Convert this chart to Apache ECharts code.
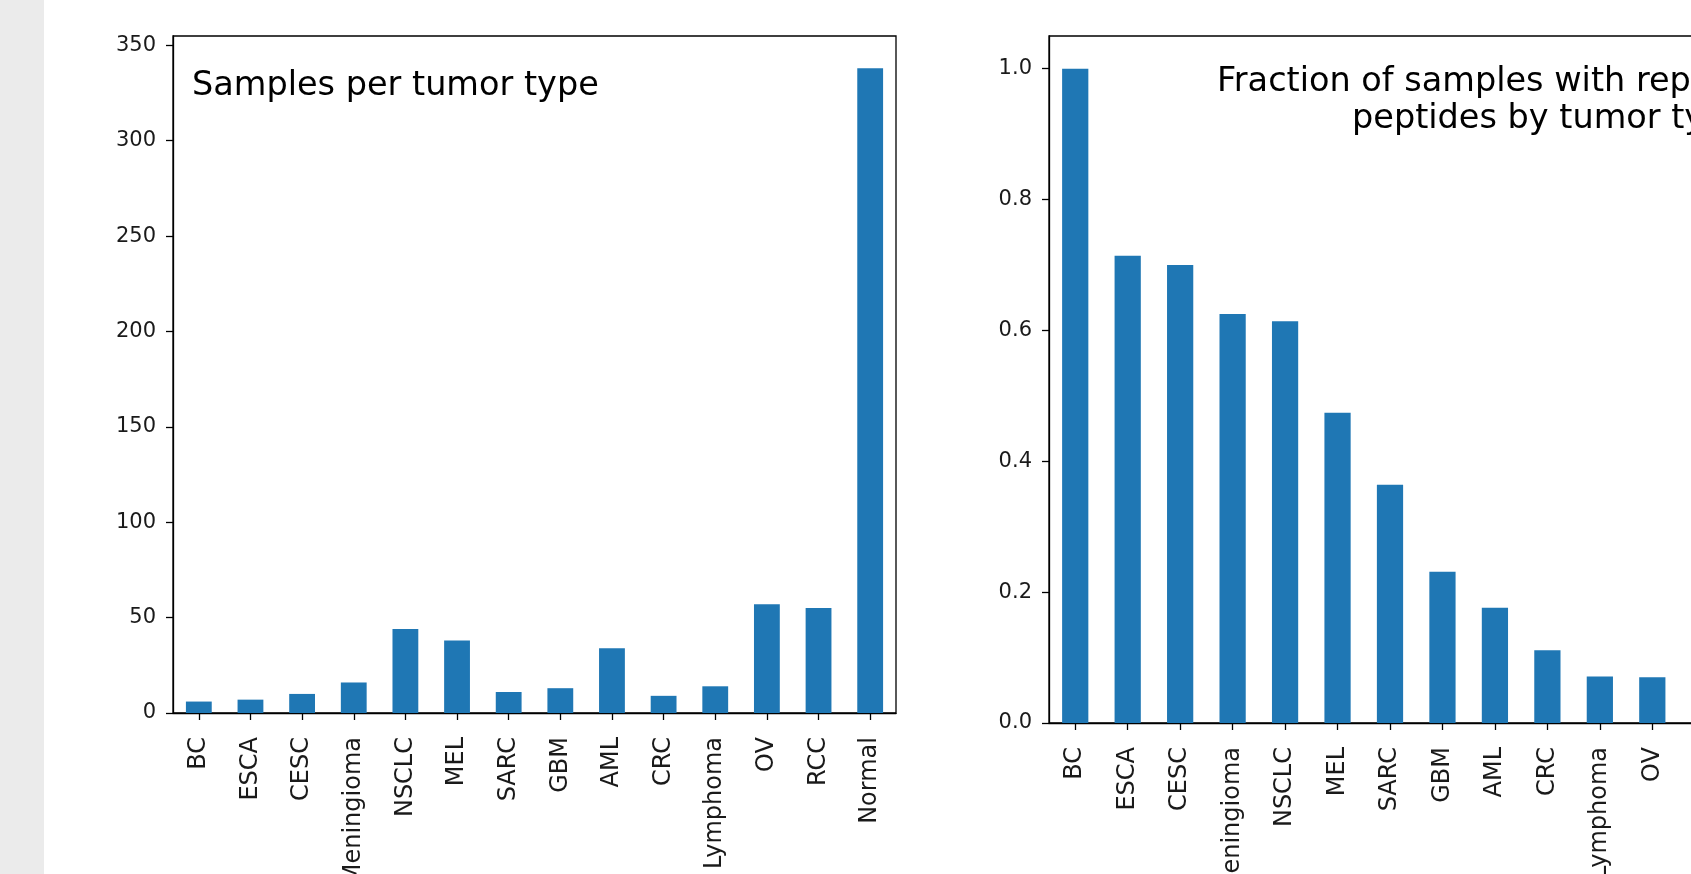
<!DOCTYPE html>
<html>
<head>
<meta charset="utf-8">
<script src="https://cdn.jsdelivr.net/npm/echarts@6/dist/echarts.min.js"></script>
<style>
  html, body { margin: 0; padding: 0; overflow: hidden; background: #ffffff; }
  #chart { width: 1800px; height: 874px; }
</style>
</head>
<body>
<div id="chart"></div>
<script>
// Sample counts per tumor type
const sampleTypes = ['BC', 'ESCA', 'CESC', 'Meningioma', 'NSCLC', 'MEL', 'SARC', 'GBM', 'AML', 'CRC', 'Lymphoma', 'OV', 'RCC', 'Normal'];
const sampleCounts = [6, 7, 10, 16, 44, 38, 11, 13, 34, 9, 14, 57, 55, 338];
const countTicks = [0, 50, 100, 150, 200, 250, 300, 350];

// Fraction of samples per tumor type, sorted high to low
const fractionTypes = ['BC', 'ESCA', 'CESC', 'Meningioma', 'NSCLC', 'MEL', 'SARC', 'GBM', 'AML', 'CRC', 'Lymphoma', 'OV', 'RCC'];
const fractionValues = [1.0, 0.714, 0.700, 0.625, 0.614, 0.474, 0.364, 0.231, 0.176, 0.111, 0.071, 0.070, 0.018];
const fractionTicks = [0, 0.2, 0.4, 0.6, 0.8, 1.0];

const leftTitle = 'Samples per tumor type';
const rightTitleLines = ['Fraction of samples with repeated', 'peptides by tumor type'];

const BAR = '#1f77b4';
const INK = '#1a1a1a';
const AXIS_FONT = 'DejaVu Sans';
const TITLE_FONT = 'DejaVu Sans';

function catAxis(gridIndex, data) {
  return {
    type: 'category', gridIndex, data,
    boundaryGap: true,
    axisLine: { show: true, lineStyle: { color: '#000', width: 1.3 } },
    axisTick: { show: true, alignWithLabel: true, length: 7, lineStyle: { color: '#000', width: 1.3 } },
    axisLabel: { rotate: 90, interval: 0, margin: 24, fontSize: 24, fontFamily: AXIS_FONT, color: INK },
    splitLine: { show: false }
  };
}

function valAxis(gridIndex, max, ticks, digits) {
  return {
    type: 'value', gridIndex, min: 0, max,
    axisLine: { show: true, lineStyle: { color: '#000', width: 1.3 } },
    axisTick: { show: true, length: 7, customValues: ticks, lineStyle: { color: '#000', width: 1.3 } },
    axisLabel: {
      customValues: ticks, margin: 17, fontSize: 21, fontFamily: AXIS_FONT, color: INK,
      formatter: v => v.toFixed(digits)
    },
    splitLine: { show: false }
  };
}

const chart = echarts.init(document.getElementById('chart'), null, { renderer: 'canvas' });

chart.setOption({
  animation: false,
  backgroundColor: '#ffffff',
  grid: [
    { left: 173, top: 36, width: 723, height: 677, show: true, borderColor: '#000', borderWidth: 1.3, outerBoundsMode: 'none', containLabel: false },
    { left: 1049, top: 36, width: 682, height: 687, show: true, borderColor: '#000', borderWidth: 1.3, outerBoundsMode: 'none', containLabel: false }
  ],
  xAxis: [catAxis(0, sampleTypes), catAxis(1, fractionTypes)],
  yAxis: [valAxis(0, 354.9, countTicks, 0), valAxis(1, 1.05, fractionTicks, 1)],
  series: [
    { type: 'bar', xAxisIndex: 0, yAxisIndex: 0, data: sampleCounts, barWidth: '50%', itemStyle: { color: BAR } },
    { type: 'bar', xAxisIndex: 1, yAxisIndex: 1, data: fractionValues, barWidth: '50%', itemStyle: { color: BAR } }
  ],
  graphic: [
    { type: 'rect', left: 0, top: 0, shape: { width: 44, height: 874 }, style: { fill: '#ebebeb' }, silent: true, z: -10 },
    { type: 'text', x: 192, y: 86, style: { text: leftTitle, fontSize: 33.5, fontFamily: TITLE_FONT, fill: '#000', verticalAlign: 'middle', align: 'left' }, z: 100 },
    { type: 'text', x: 1217, y: 82, style: { text: rightTitleLines[0], fontSize: 33.5, fontFamily: TITLE_FONT, fill: '#000', verticalAlign: 'middle', align: 'left' }, z: 100 },
    { type: 'text', x: 1352, y: 119, style: { text: rightTitleLines[1], fontSize: 33.5, fontFamily: TITLE_FONT, fill: '#000', verticalAlign: 'middle', align: 'left' }, z: 100 }
  ]
});
</script>
</body>
</html>
